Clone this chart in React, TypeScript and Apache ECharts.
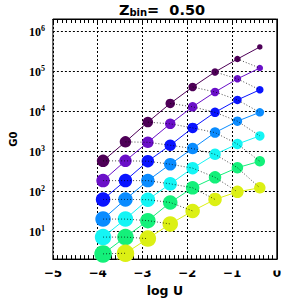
import React, { useEffect, useRef } from "react";
import * as echarts from "echarts";

// log U positions of the model grid columns
const logU = [-3.88, -3.38, -2.88, -2.38, -1.88, -1.38, -0.88, -0.38];

// G0 values for each coloured track
const g0DarkPurple = [570, 1700, 5300, 15500, 40000, 95000, 200000, 400000];
const g0Purple = [183, 570, 1660, 4800, 12800, 30000, 64000, 119000];
const g0Blue = [62, 183, 560, 1400, 3800, 9300, 19000, 34000];
const g0Azure = [20, 62, 183, 470, 1160, 2900, 5600, 9300];
const g0Cyan = [7.1, 20, 61, 152, 375, 830, 1500, 2400];
const g0Green = [2.7, 7.1, 18.3, 52, 121, 221, 385, 557];
const g0Yellow = [1.0, 2.8, 6.5, 15.1, 32, 62, 96, 121];

const tracks = [g0DarkPurple, g0Purple, g0Blue, g0Azure, g0Cyan, g0Green, g0Yellow];
const trackColors = ["#4e0057", "#6a10c8", "#0a14ff", "#0a8cff", "#14f5f5", "#14f07a", "#dcf014"];

const xTicks = [-5, -4, -3, -2, -1, 0];

export default function App() {
  const ref = useRef<HTMLDivElement>(null);
  useEffect(() => {
    if (!ref.current) return;
    const chart = echarts.init(ref.current, null, { renderer: "svg" });

    const series: any[] = [];
    tracks.forEach((vals, k) => {
      series.push({
        type: "line",
        data: logU.map((x, i) => [x, vals[i]]),
        symbol: "circle",
        symbolSize: (_v: any, p: any) => 12.5 - (p.dataIndex - k),
        itemStyle: { color: trackColors[k] },
        lineStyle: { color: trackColors[k], width: 1 },
        clip: true,
        z: 2,
      });
    });
    // dotted diagonals joining (track k, column i) to (track k+1, column i+1)
    for (let d = -6; d <= 7; d++) {
      const pts: any[] = [];
      tracks.forEach((vals, k) => {
        const i = k + d;
        if (i >= 0 && i < logU.length) pts.push([logU[i], vals[i]]);
      });
      if (pts.length >= 2) {
        series.push({
          type: "line",
          data: pts,
          symbol: "none",
          lineStyle: { color: "#000", width: 1, type: [1, 2], opacity: 0.7 },
          clip: true,
          z: 4,
          silent: true,
        });
      }
    }

    chart.setOption({
      animation: false,
      title: {
        text: "{a|Z}{s|bin}{a|=  0.50}",
        left: 162,
        textAlign: "center",
        top: 2,
        padding: 0,
        textStyle: {
          rich: {
            a: { fontFamily: "DejaVu Sans", fontSize: 14.5, color: "#000", lineHeight: 15, verticalAlign: "top" },
            s: { fontFamily: "DejaVu Sans", fontWeight: "bold", fontSize: 10, color: "#000", lineHeight: 10, padding: [7, 0, 0, 0], verticalAlign: "bottom" },
          },
        },
      },
      grid: { left: 46, right: 5, top: 19, bottom: 39, show: true, borderColor: "#000", borderWidth: 1, backgroundColor: "transparent" },
      xAxis: [
        {
          type: "value",
          min: -5,
          max: 0,
          interval: 1,
          name: "log U",
          nameLocation: "middle",
          nameGap: 22,
          nameTextStyle: { fontFamily: "DejaVu Sans", fontWeight: "bold", fontSize: 12.5, color: "#000" },
          axisLine: { show: true, lineStyle: { color: "#000" } },
          axisTick: { show: true, inside: true, length: 4, lineStyle: { color: "#000" } },
          minorTick: { show: true, splitNumber: 10, length: 4, lineStyle: { color: "#000" } },
          axisLabel: {
            margin: 8,
            fontFamily: "DejaVu Sans",
            fontWeight: "bold",
            fontSize: 12,
            color: "#000",
            formatter: (v: number) => (xTicks.includes(v) && v < 0 ? "\u2212" + Math.abs(v) : String(v)),
          },
          splitLine: { show: true, lineStyle: { color: "#000", type: [2, 2], width: 1 } },
        },
        {
          type: "value",
          position: "top",
          min: -5,
          max: 0,
          interval: 1,
          axisLine: { show: true, lineStyle: { color: "#000" } },
          axisTick: { show: true, inside: true, length: 4, lineStyle: { color: "#000" } },
          minorTick: { show: true, splitNumber: 10, length: 4, lineStyle: { color: "#000" } },
          axisLabel: { show: false },
          splitLine: { show: false },
        },
      ],
      yAxis: {
        type: "log",
        logBase: 10,
        min: 2,
        max: 2000000,
        name: "G0",
        nameLocation: "middle",
        nameRotate: 90,
        nameGap: 32,
        nameTextStyle: { fontFamily: "DejaVu Sans", fontWeight: "bold", fontSize: 10, color: "#000" },
        axisLine: { show: true, lineStyle: { color: "#000" } },
        axisTick: { show: false },
        splitLine: { show: true, lineStyle: { color: "#000", type: [2, 2], width: 1 } },
        axisLabel: {
          margin: 8,
          showMinLabel: false,
          showMaxLabel: false,
          formatter: (v: number) => {
            const e = Math.round(Math.log10(v));
            return "{b|10}{s|" + e + "}";
          },
          rich: {
            b: { fontFamily: "Liberation Serif", fontWeight: "bold", fontSize: 12, color: "#000", lineHeight: 14, verticalAlign: "bottom" },
            s: { fontFamily: "Liberation Serif", fontWeight: "bold", fontSize: 8, color: "#000", lineHeight: 8, verticalAlign: "top" },
          },
        },
      },
      graphic: [
        { type: "rect", shape: { x: 30, y: 263.5, width: 254, height: 7 }, style: { fill: "#fff" }, z: 100 },
      ],
      series,
    });
    return () => chart.dispose();
  }, []);
  return <div ref={ref} style={{ position: "absolute", left: 0, top: 0, width: 284, height: 302 }} />;
}
